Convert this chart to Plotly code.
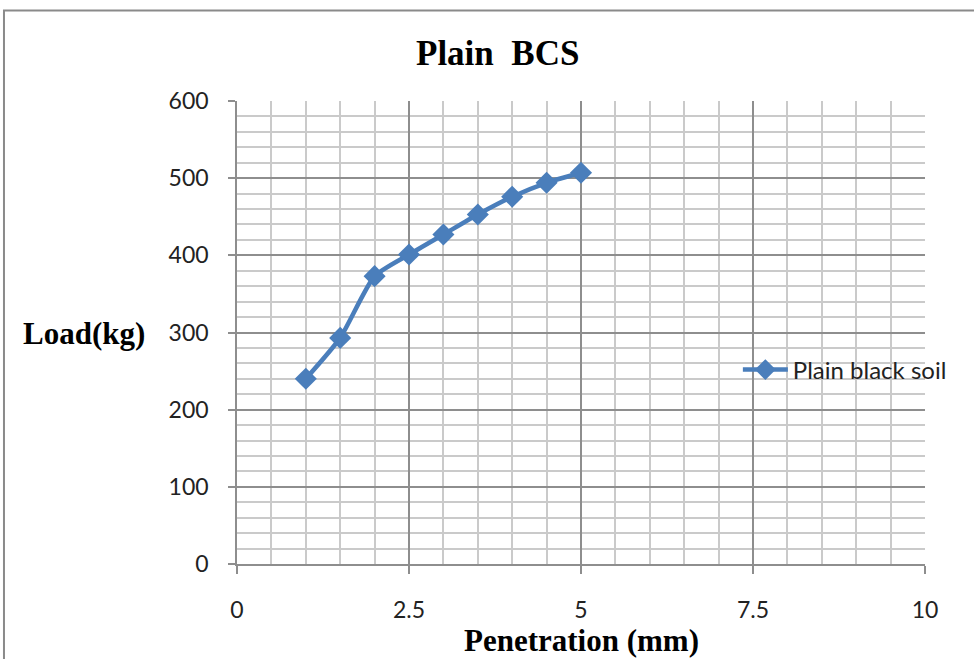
import plotly.graph_objects as go

# CBR test: load vs penetration for plain black cotton soil
penetration_mm = [1.0, 1.5, 2.0, 2.5, 3.0, 3.5, 4.0, 4.5, 5.0]
load_kg = [240, 293, 373, 401, 427, 453, 476, 494, 507]
series_name = "Plain black soil"
chart_title = "Plain  BCS"
x_title = "Penetration (mm)"
y_title = "Load(kg)"

BLUE = "#4A7EBB"
MAJOR_GRID = "#8E8E8E"
MINOR_GRID = "#CACACA"
SANS = "Lato, 'Open Sans', sans-serif"
TICK_FONT = dict(family=SANS, size=23, color="#222222")
SERIF_BOLD = dict(family="'Liberation Serif', 'Times New Roman', serif", color="#000000")

fig = go.Figure()
fig.add_trace(go.Scatter(
    x=penetration_mm,
    y=load_kg,
    name=series_name,
    mode="lines+markers",
    line=dict(color=BLUE, width=4.5, shape="spline", smoothing=0.6),
    marker=dict(symbol="diamond", size=17, color=BLUE),
))

axis_common = dict(
    showline=True,
    linecolor=MAJOR_GRID,
    linewidth=1.5,
    showgrid=True,
    gridcolor=MAJOR_GRID,
    gridwidth=1.5,
    zeroline=False,
    ticks="outside",
    tickcolor=MAJOR_GRID,
    tickwidth=1.5,
    tickfont=TICK_FONT,
)

fig.update_xaxes(
    range=[0, 10],
    dtick=2.5,
    tick0=0,
    ticklen=8,
    ticklabelstandoff=17,
    minor=dict(dtick=0.5, showgrid=True, gridcolor=MINOR_GRID, gridwidth=1.5, ticks=""),
    **axis_common,
)
fig.update_yaxes(
    range=[0, 600],
    dtick=100,
    tick0=0,
    ticklen=7,
    ticklabelstandoff=15,
    minor=dict(dtick=20, showgrid=True, gridcolor=MINOR_GRID, gridwidth=1.5, ticks=""),
    **axis_common,
)

# Chart title and horizontal axis captions
fig.add_annotation(
    text=f"<b>{chart_title}</b>", xref="paper", yref="paper",
    x=0.378, y=1.103, xanchor="center", yanchor="middle",
    showarrow=False, font=dict(size=35, **SERIF_BOLD),
)
fig.add_annotation(
    text=f"<b>{y_title}</b>", xref="paper", yref="paper",
    x=-0.314, y=0.497, xanchor="left", yanchor="middle",
    showarrow=False, font=dict(size=31, **SERIF_BOLD),
)
fig.add_annotation(
    text=f"<b>{x_title}</b>", xref="paper", yref="paper",
    x=0.5, y=-0.165, xanchor="center", yanchor="middle",
    showarrow=False, font=dict(size=31, **SERIF_BOLD),
)

# Outer chart frame
fig.add_shape(
    type="rect", xref="paper", yref="paper",
    x0=-0.3387, x1=1.2, y0=-0.3, y1=1.1957,
    line=dict(color="#8A8A8A", width=2), fillcolor="rgba(0,0,0,0)", layer="below",
)

fig.update_layout(
    width=974,
    height=659,
    margin=dict(l=237, r=49, t=101, b=95),
    paper_bgcolor="white",
    plot_bgcolor="white",
    showlegend=True,
    legend=dict(
        x=0.728, y=0.419, xanchor="left", yanchor="middle",
        bgcolor="rgba(0,0,0,0)", borderwidth=0,
        font=dict(family=SANS, size=24, color="#222222"),
        itemwidth=45,
    ),
)

fig.write_html("out.html")
